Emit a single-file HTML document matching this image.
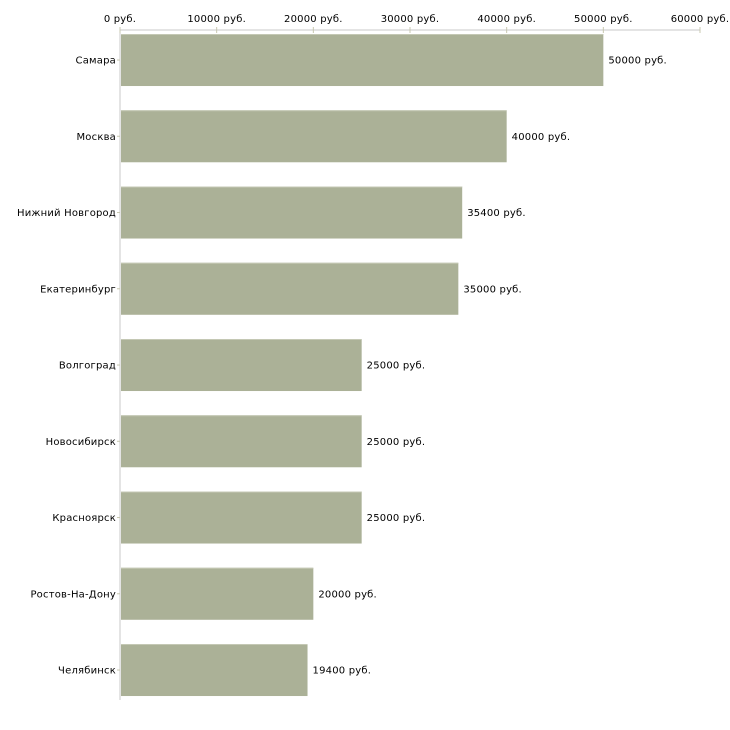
<!DOCTYPE html>
<html><head><meta charset="utf-8"><style>
html,body{margin:0;padding:0;background:#fff;}
svg{display:block;font-family:"DejaVu Sans","Liberation Sans",sans-serif;font-size:10px;letter-spacing:0.2px;}
</style></head><body>
<svg id="chart" width="730" height="730"></svg>
<script>
const categories=["Самара","Москва","Нижний Новгород","Екатеринбург","Волгоград","Новосибирск","Красноярск","Ростов-На-Дону","Челябинск"];
const values=[50000,40000,35400,35000,25000,25000,25000,20000,19400];
const ticks=[0,10000,20000,30000,40000,50000,60000];
const NS="http://www.w3.org/2000/svg";
const svg=document.getElementById('chart');
const x0=120,x1=700,xmax=60000,yTop=30,band=76.25,bandStart=21.9,barH=52;
const xs=v=>x0+(v/xmax)*(x1-x0);
const ys=i=>bandStart+i*band;
function mk(t,a,txt){const e=document.createElementNS(NS,t);for(const k in a)e.setAttribute(k,a[k]);if(txt!=null)e.textContent=txt;svg.appendChild(e);return e;}
let e;
e=mk('line',{x1:x0,y1:yTop,x2:x1,y2:yTop,stroke:'#c8c8c8','stroke-width':1});


e=mk('line',{x1:x0,y1:yTop,x2:x0,y2:700,stroke:'#c8c8c8','stroke-width':1});


ticks.forEach(t=>{
  const x=xs(t);
  e=mk('line',{x1:x,y1:yTop-3,x2:x,y2:yTop+3,stroke:'#c8c8b0','stroke-width':1});
  
  
  e=mk('text',{x:x,y:yTop-8,'text-anchor':'middle',fill:'#000'},t+' руб.');
  
  
});
categories.forEach((c,i)=>{
  const y=ys(i)+(band-barH)/2;
  const cy=y+barH/2;
  e=mk('rect',{x:x0+1,y:y,width:xs(values[i])-x0-1,height:barH,fill:'#abb197'});
  
  
  e=mk('line',{x1:x0+1,y1:y+0.5,x2:xs(values[i]),y2:y+0.5,stroke:'#c4c8b4','stroke-width':1});
  
  
  e=mk('line',{x1:x0-3,y1:cy,x2:x0,y2:cy,stroke:'#c8c8b0','stroke-width':1});
  
  
  e=mk('text',{x:x0-4,y:cy+3.5,'text-anchor':'end',fill:'#000'},c);
  
  
  e=mk('text',{x:xs(values[i])+5,y:cy+3.5,fill:'#000'},values[i]+' руб.');
  
  
});
</script>
</body></html>
